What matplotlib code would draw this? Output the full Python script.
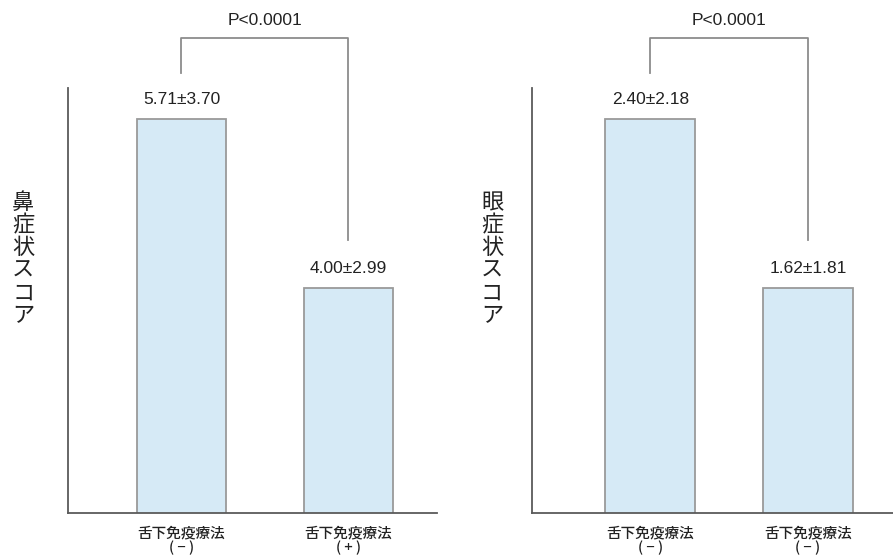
#!/usr/bin/env python3
"""Two-panel bar chart: nasal / ocular symptom score with and without SLIT."""
import matplotlib
matplotlib.use("Agg")
import matplotlib.pyplot as plt
from matplotlib.transforms import blended_transform_factory

plt.rcParams["font.family"] = ["Liberation Sans", "Noto Sans CJK JP", "DejaVu Sans"]

# Data
NASAL_LABELS = ["舌下免疫療法\n( − )", "舌下免疫療法\n( + )"]
NASAL_MEAN = [5.71, 4.00]
NASAL_SD = [3.70, 2.99]

EYE_LABELS = ["舌下免疫療法\n( − )", "舌下免疫療法\n( − )"]
EYE_MEAN = [2.40, 1.62]
EYE_SD = [2.18, 1.81]

YLABELS = ["鼻症状スコア", "眼症状スコア"]
P_TEXT = "P<0.0001"

BAR_FACE = "#d6eaf6"
BAR_EDGE = "#9a9a9a"
AXIS_COLOR = "#5a5a5a"
BRACKET_COLOR = "#8c8c8c"
CJK = ["Noto Sans CJK JP", "DejaVu Sans"]


def draw_panel(ax, labels, means, sds, ylim, xlim, width):
    xs = list(range(len(means)))
    ax.bar(xs, means, width=width, color=BAR_FACE, edgecolor=BAR_EDGE,
           linewidth=1.3, zorder=2)
    ax.set_ylim(*ylim)
    ax.set_xlim(*xlim)

    for s in ("top", "right"):
        ax.spines[s].set_visible(False)
    for s in ("left", "bottom"):
        ax.spines[s].set_color(AXIS_COLOR)
        ax.spines[s].set_linewidth(1.3)
        ax.spines[s].set_zorder(3)

    ax.set_yticks([])
    ax.set_xticks(xs)
    ax.set_xticklabels(labels, family=CJK, fontsize=10.5, linespacing=0.95,
                       color="#222222", fontweight="medium")
    ax.tick_params(axis="x", length=0, pad=10)

    # mean±SD above each bar
    for x, m, sd in zip(xs, means, sds):
        ax.annotate(f"{m:.2f}±{sd:.2f}", (x, m), xytext=(0, 20),
                    textcoords="offset pixels", ha="center", va="center",
                    fontsize=12.5, color="#222222")

    # significance bracket
    trans = blended_transform_factory(ax.transData, ax.transAxes)
    y_top = 1.1176
    ax.plot([xs[0], xs[0], xs[1], xs[1]], [1.0353, y_top, y_top, 0.6424],
            transform=trans, clip_on=False, color=BRACKET_COLOR, linewidth=1.3)
    ax.text((xs[0] + xs[1]) / 2, 1.16, P_TEXT, transform=trans,
            ha="center", va="center", fontsize=12.5, color="#222222")


fig = plt.figure(figsize=(8.93, 5.56), dpi=100)
ax1 = fig.add_axes([0.0761, 0.0773, 0.4132, 0.7644])
ax2 = fig.add_axes([0.5957, 0.0773, 0.4043, 0.7644])

draw_panel(ax1, NASAL_LABELS, NASAL_MEAN, NASAL_SD,
           ylim=(1.724, 6.024), xlim=(-0.680, 1.530), width=0.533)
draw_panel(ax2, EYE_LABELS, EYE_MEAN, EYE_SD,
           ylim=(0.582, 2.543), xlim=(-0.752, 1.540), width=0.571)

# vertical (stacked) y-axis titles
for xpos, text in zip([0.026, 0.551], YLABELS):
    fig.text(xpos, 0.534, "\n".join(text), family=CJK, fontsize=16,
             ha="center", va="center", linespacing=0.98, color="#222222")

fig.savefig("out.png", dpi=100)
